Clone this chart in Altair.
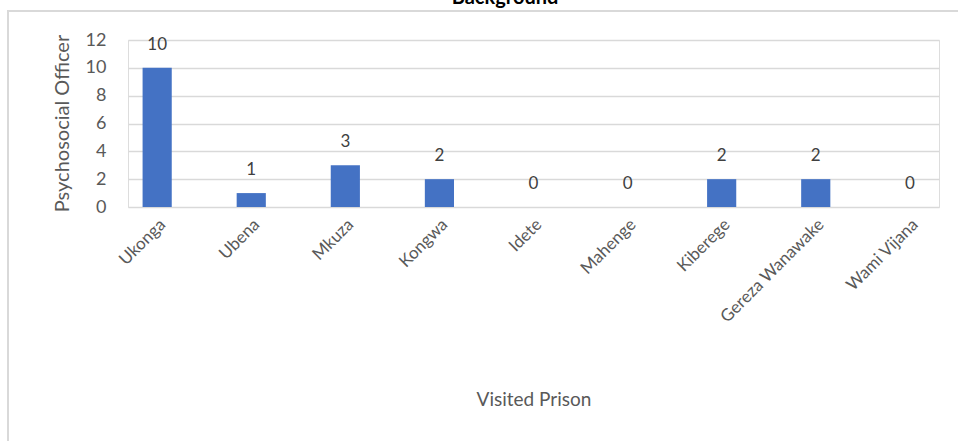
import altair as alt
import pandas as pd

prisons = ["Ukonga", "Ubena", "Mkuza", "Kongwa", "Idete", "Mahenge",
           "Kiberege", "Gereza Wanawake", "Wami Vijana"]
officers = [10, 1, 3, 2, 0, 0, 2, 2, 0]
y_ticks = [0, 2, 4, 6, 8, 10, 12]

df = pd.DataFrame({"prison": prisons, "officers": officers})

FONT = "Lato"
GREY = "#595959"

x = alt.X("prison:N", sort=prisons, title="Visited Prison",
          scale=alt.Scale(paddingInner=0.69, paddingOuter=0.155),
          axis=alt.Axis(labelAngle=-45, domain=False, ticks=False,
                        labelFontSize=17, labelColor=GREY, labelFont=FONT,
                        labelPadding=9, labelOverlap=False,
                        titleFontSize=19, titleColor=GREY,
                        titleFont=FONT, titleFontWeight="normal",
                        titleY=198, titleBaseline="alphabetic"))
y = alt.Y("officers:Q", title="Psychosocial Officer",
          scale=alt.Scale(domain=[0, 12], nice=False),
          axis=alt.Axis(values=y_ticks, labelOverlap=False,
                        domain=False, ticks=False,
                        gridColor="#D9D9D9", gridWidth=1.3,
                        labelFontSize=18, labelColor=GREY, labelFont=FONT,
                        labelPadding=22, titleFontSize=20, titleColor=GREY,
                        titleFont=FONT, titleFontWeight="normal",
                        titleX=-66, titleY=83, titleAngle=-90,
                        titleBaseline="middle", titleAlign="center"))

base = alt.Chart(df)

border = base.mark_rect(fill=None, stroke="#D9D9D9", strokeWidth=1.5).encode(
    x=alt.value(-120), x2=alt.value(900), y=alt.value(-29), y2=alt.value(500))

bars = base.mark_bar(color="#4472C4").encode(x=x, y=y)

labels = base.mark_text(fontSize=17, color="#404040", font=FONT,
                        baseline="alphabetic", dy=-18).encode(
    x=x, y=y, text="officers:Q")

title_txt = alt.Chart(pd.DataFrame({"t": ["Background"]})).mark_text(
    fontSize=20, fontWeight="bold", font=FONT, color="#000000",
    baseline="alphabetic").encode(
    x=alt.value(377), y=alt.value(-36), text="t:N")

chart = alt.layer(border, bars, labels, title_txt).properties(
    width=811, height=167,
    padding={"left": 128, "top": 40, "right": 19, "bottom": 234},
    autosize=alt.AutoSizeParams(type="none"),
).configure_view(stroke=None).configure(background="white")

chart.save("out.html", embed_options={"renderer": "svg", "actions": False})
